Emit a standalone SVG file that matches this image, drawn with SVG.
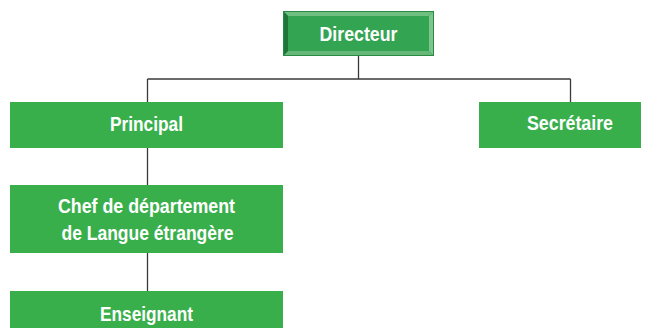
<svg xmlns="http://www.w3.org/2000/svg" width="650" height="328" viewBox="0 0 650 328">
<style>
.box{fill:#39af4c}
.lbl{font-family:"Liberation Sans",Arial,sans-serif;font-weight:bold;font-size:21px;fill:#ffffff;text-anchor:middle}
.ln{stroke:#3a3a3a;stroke-width:1.3;fill:none}
</style>
<rect width="650" height="328" fill="#ffffff"/>
<g id="connectors">
<path class="ln" d="M358.5 56 V79 M147.5 79 H570.5 M147.5 79 V102 M570.5 79 V102 M147.5 148 V185 M147.5 253 V291"/>
</g>
<g id="directeur">
<rect x="283" y="11" width="151" height="45" fill="#2a8a44"/>
<polygon points="284,12 433,12 429,16 288,16" fill="#6fbf81"/>
<polygon points="433,12 433,55 429,51 429,16" fill="#7dc58e"/>
<polygon points="284,55 433,55 429,51 288,51" fill="#66b879"/>
<polygon points="284,12 288,16 288,51 284,55" fill="#1f7438"/>
<rect x="288" y="16" width="141" height="35" fill="#33a452"/>
<text class="lbl" x="358.5" y="41" textLength="78" lengthAdjust="spacingAndGlyphs">Directeur</text>
</g>
<g id="principal">
<rect class="box" x="10" y="102" width="273" height="46"/>
<text class="lbl" x="146.5" y="131" textLength="73" lengthAdjust="spacingAndGlyphs">Principal</text>
</g>
<g id="secretaire">
<rect class="box" x="479" y="102" width="162" height="46"/>
<text class="lbl" x="570" y="130" textLength="86" lengthAdjust="spacingAndGlyphs">Secrétaire</text>
</g>
<g id="chef">
<rect class="box" x="10" y="185" width="273" height="68"/>
<text class="lbl" x="146.5" y="213" textLength="177" lengthAdjust="spacingAndGlyphs">Chef de département</text>
<text class="lbl" x="147.5" y="240" textLength="172" lengthAdjust="spacingAndGlyphs">de Langue étrangère</text>
</g>
<g id="enseignant">
<rect class="box" x="10" y="291" width="273" height="40"/>
<text class="lbl" x="146.5" y="321" textLength="93" lengthAdjust="spacingAndGlyphs">Enseignant</text>
</g>
</svg>
